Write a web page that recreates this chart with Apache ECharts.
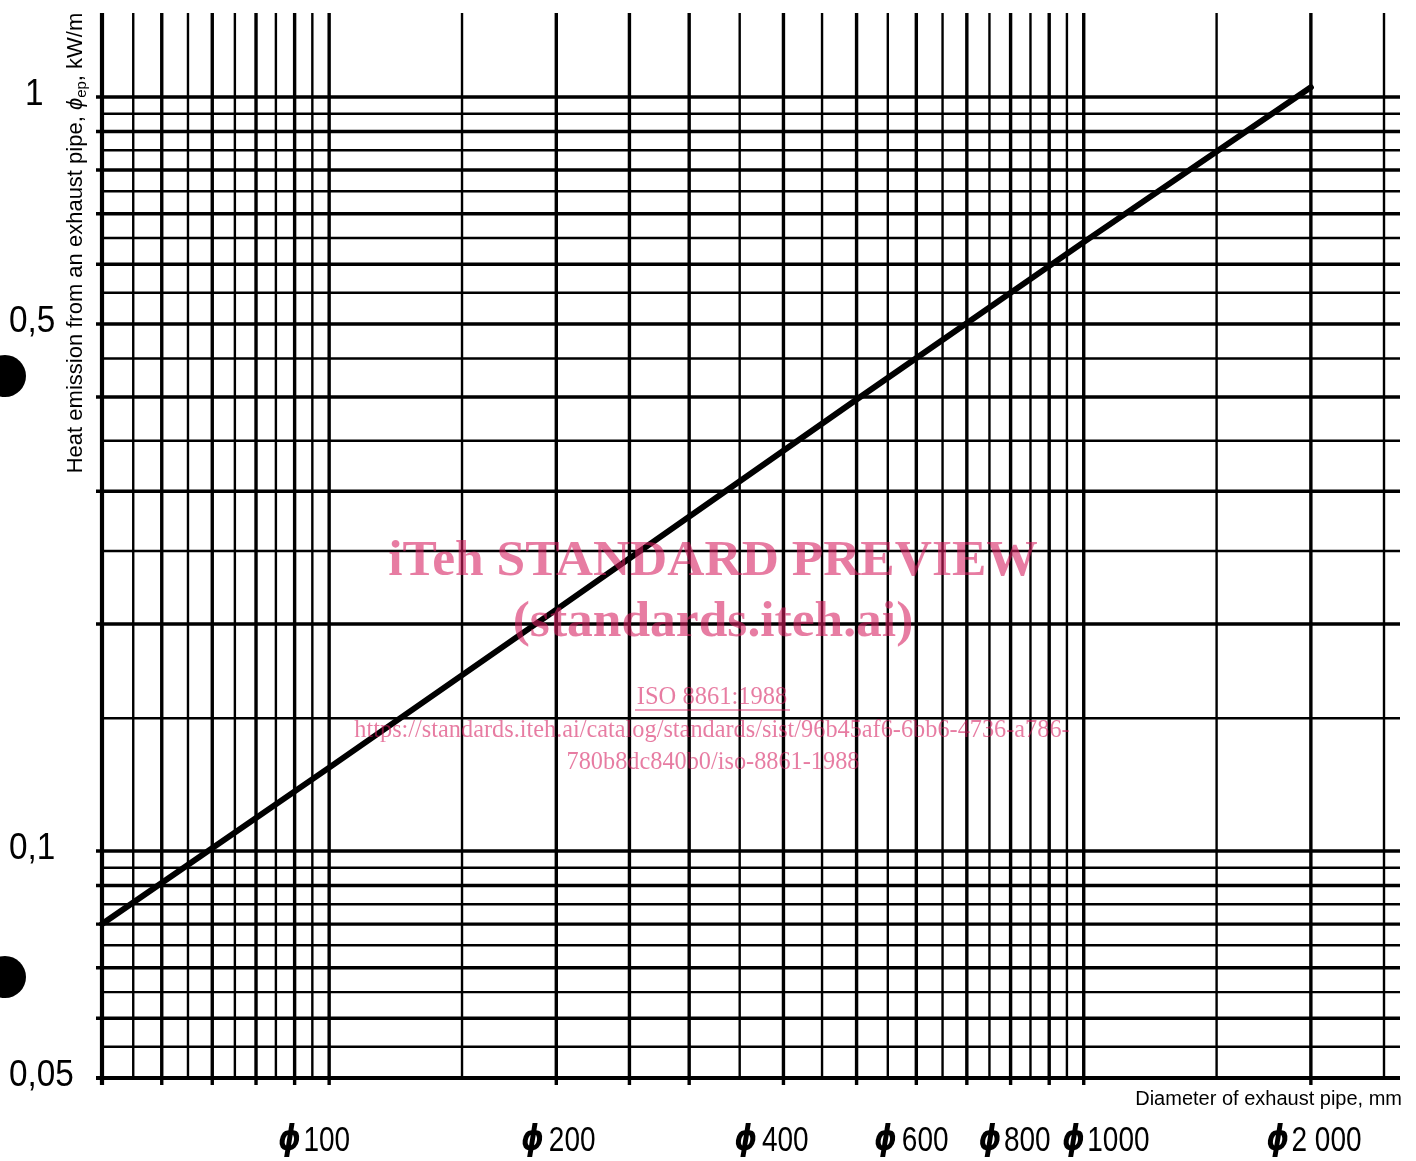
<!DOCTYPE html>
<html><head><meta charset="utf-8">
<script src="https://cdn.jsdelivr.net/npm/echarts@6/dist/echarts.min.js"></script>
<style>html,body{margin:0;padding:0;background:#fff}#c{width:1416px;height:1161px}</style>
</head><body><div id="c"></div>
<script>
// ---- data ----
const curveDiameters = [50, 100, 200, 500, 1000, 2000];
const curveEmission  = [0.080, 0.129, 0.209, 0.397, 0.642, 1.03];

const xGridMajor = [50, 60, 70, 80, 90, 100, 200, 250, 300, 400, 500, 600, 700, 800, 900, 1000, 2000];
const xGridMinor = [55, 65, 75, 85, 95, 150, 350, 450, 550, 650, 750, 850, 950, 1500, 2500];
const yGridMajor = [0.05, 0.06, 0.07, 0.08, 0.09, 0.1, 0.2, 0.3, 0.4, 0.5, 0.6, 0.7, 0.8, 0.9, 1];
const yGridMinor = [0.055, 0.065, 0.075, 0.085, 0.095, 0.15, 0.25, 0.35, 0.45, 0.55, 0.65, 0.75, 0.85, 0.95];

const xTickValues = [100, 200, 400, 600, 800, 1000, 2000];
const xTickNumbers = ['100', '200', '400', '600', '800', '1000', '2 000'];
const phiSymbol = 'ϕ';
const yTickValues = [1, 0.5, 0.1, 0.05];
const yTickLabels = ['1', '0,5', '0,1', '0,05'];

const xAxisName = 'Diameter of exhaust pipe, mm';
const yAxisNameParts = ['Heat emission from an exhaust pipe, ', 'ϕ', 'ep', ', kW/m'];
const watermarkLines = ['iTeh STANDARD PREVIEW', '(standards.iteh.ai)', 'ISO 8861:1988',
  'https://standards.iteh.ai/catalog/standards/sist/96b45af6-6bb6-4736-a786-', '780b8dc840b0/iso-8861-1988'];

// ---- layout tweaks (pixel nudges, kept apart from the data) ----
const xLabelNudge = [-15, 2, -12, -5, 4, 22, 3];
const xPhiGap = [3, 6, 6, 6, 3, 3, 3];
const yLabelLeft = {'1': 25};

const LABEL_FONT = '"Liberation Sans", Arial, sans-serif';
const SERIF = '"Liberation Serif", "Times New Roman", serif';
const PINK = 'rgba(214,30,95,0.58)';
const RIGHT_END = 1400;

const chart = echarts.init(document.getElementById('c'), null, {renderer: 'canvas'});

function vLine(width, major) {
  return function (params, api) {
    const v = api.value(0);
    const cs = params.coordSys;
    const x = api.coord([v, 1])[0];
    const isAxis = v === xGridMajor[0];
    return {
      type: 'line',
      shape: {x1: x, y1: cs.y - 84, x2: x, y2: cs.y + cs.height + (major ? 7 : 0)},
      style: {stroke: '#000', lineWidth: isAxis ? 4.2 : width}
    };
  };
}
function hLine(width, major) {
  return function (params, api) {
    const v = api.value(1);
    const cs = params.coordSys;
    const y = api.coord([50, v])[1];
    const isAxis = v === yGridMajor[0];
    return {
      type: 'line',
      shape: {x1: cs.x - (major ? 6 : 0), y1: y, x2: RIGHT_END, y2: y},
      style: {stroke: '#000', lineWidth: isAxis ? 4.2 : width}
    };
  };
}

function centered(extra) {
  return Object.assign({align: 'center', textAlign: 'center', verticalAlign: 'middle', textVerticalAlign: 'middle'}, extra);
}

const option = {
  animation: false,
  backgroundColor: '#fff',
  grid: {left: 102, right: 32, top: 97, bottom: 83, containLabel: false},
  xAxis: {type: 'log', logBase: 10, min: 50, max: 2500, show: false},
  yAxis: {type: 'log', logBase: 10, min: 0.05, max: 1, show: false},
  series: [
    {type: 'custom', name: 'vMinor', silent: true, clip: false, z: 2,
      data: xGridMinor.map(v => [v, 1]), renderItem: vLine(2.4, false)},
    {type: 'custom', name: 'vMajor', silent: true, clip: false, z: 3,
      data: xGridMajor.map(v => [v, 1]), renderItem: vLine(3.4, true)},
    {type: 'custom', name: 'hMinor', silent: true, clip: false, z: 2,
      data: yGridMinor.map(v => [50, v]), renderItem: hLine(2.4, false)},
    {type: 'custom', name: 'hMajor', silent: true, clip: false, z: 3,
      data: yGridMajor.map(v => [50, v]), renderItem: hLine(3.4, true)},
    {type: 'line', name: 'curve', silent: true, z: 10, clip: false,
      data: curveDiameters.map((d, i) => [d, curveEmission[i]]),
      symbol: 'none', lineStyle: {color: '#000', width: 6, cap: 'round'}},
    {type: 'custom', name: 'xLabels', silent: true, clip: false, z: 5,
      data: xTickValues.map(v => [v, 0.05]),
      renderItem: function (params, api) {
        const i = params.dataIndex;
        const x = api.coord([api.value(0), 0.05])[0] + xLabelNudge[i];
        return {type: 'text', x: x, y: 1141, scaleX: 0.8,
          style: centered({text: '{p|' + phiSymbol + '}' + xTickNumbers[i], fontSize: 35, fontFamily: LABEL_FONT, fill: '#000',
            rich: {p: {fontSize: 36, fontWeight: 'bold', fontStyle: 'italic', fontFamily: '"DejaVu Sans", sans-serif', padding: [0, xPhiGap[i], 0, 0]}}})};
      }},
    {type: 'custom', name: 'yLabels', silent: true, clip: false, z: 5,
      data: yTickValues.map(v => [50, v]),
      renderItem: function (params, api) {
        const i = params.dataIndex;
        const t = yTickLabels[i];
        const y = api.coord([50, api.value(1)])[1] - 2;
        const x = (yLabelLeft[t] !== undefined) ? yLabelLeft[t] : 9;
        return {type: 'text', x: x, y: y, scaleX: 0.9,
          style: {x: 0, y: 0, text: t, fontSize: 37, fontFamily: LABEL_FONT, fill: '#000',
            align: 'left', textAlign: 'left', verticalAlign: 'middle', textVerticalAlign: 'middle'}};
      }}
  ],
  graphic: [
    {type: 'circle', shape: {cx: 5, cy: 376, r: 21}, style: {fill: '#000'}},
    {type: 'circle', shape: {cx: 5, cy: 977, r: 21}, style: {fill: '#000'}},
    {type: 'text', x: 76, y: 243, rotation: Math.PI / 2,
      style: centered({
        text: yAxisNameParts[0] + '{i|' + yAxisNameParts[1] + '}{s|' + yAxisNameParts[2] + '}' + yAxisNameParts[3],
        fontSize: 22, fontFamily: LABEL_FONT, fill: '#000',
        rich: {
          i: {fontSize: 22, fontStyle: 'italic', fontFamily: LABEL_FONT, lineHeight: 26},
          s: {fontSize: 15, fontFamily: LABEL_FONT, verticalAlign: 'bottom', lineHeight: 15}
        }
      })},
    {type: 'text', x: 1402, y: 1099,
      style: {text: xAxisName, fontSize: 20, fontFamily: LABEL_FONT, fill: '#000',
        align: 'right', textAlign: 'right', verticalAlign: 'middle', textVerticalAlign: 'middle'}},
    {type: 'text', x: 713, y: 562, z: 100,
      style: centered({text: watermarkLines[0], fontSize: 51.5, fontWeight: 'bold', fontFamily: SERIF, fill: PINK})},
    {type: 'text', x: 713, y: 623, z: 100,
      style: centered({text: watermarkLines[1], fontSize: 51.5, fontWeight: 'bold', fontFamily: SERIF, fill: PINK})},
    {type: 'text', x: 712, y: 698, z: 100,
      style: centered({text: watermarkLines[2], fontSize: 24.5, fontFamily: SERIF, fill: PINK})},
    {type: 'line', z: 100, shape: {x1: 635, y1: 710, x2: 790, y2: 710},
      style: {stroke: PINK, lineWidth: 1.5}},
    {type: 'text', x: 712, y: 731, z: 100,
      style: centered({text: watermarkLines[3], fontSize: 24.3, fontFamily: SERIF, fill: PINK})},
    {type: 'text', x: 713, y: 763, z: 100,
      style: centered({text: watermarkLines[4], fontSize: 24.3, fontFamily: SERIF, fill: PINK})}
  ]
};
chart.setOption(option);
</script>
</body></html>
